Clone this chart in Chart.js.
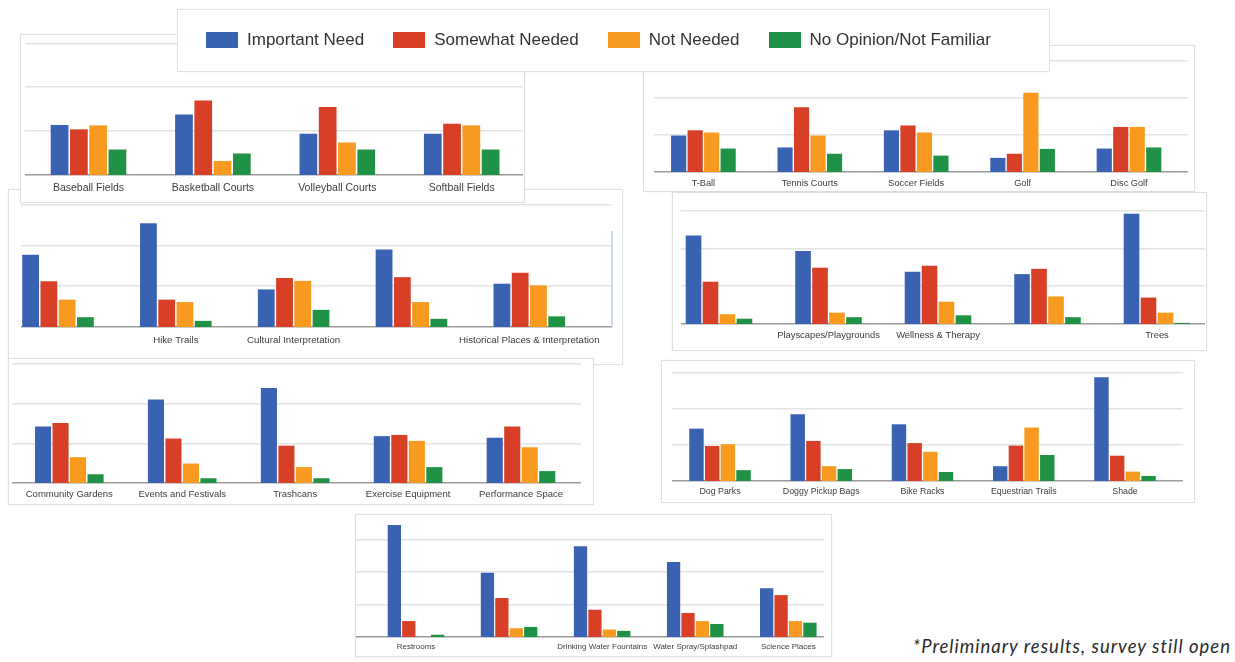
<!DOCTYPE html>
<html>
<head>
<meta charset="utf-8">
<script src="https://cdn.jsdelivr.net/npm/chart.js@4.4.1/dist/chart.umd.min.js"></script>
<style>
  body { margin: 0; background: #fff; width: 1235px; height: 662px; position: relative; overflow: hidden; font-family: "Liberation Sans", Arial, sans-serif; }
  .card { position: absolute; background: #fff; border: 1px solid #e0e0e0; box-shadow: 0 0 2px rgba(0,0,0,0.06); box-sizing: border-box; }
  .card canvas { position: absolute; }
  #legend { position: absolute; left: 177px; top: 9px; width: 873px; height: 63px; background: #fff; border: 1px solid #e2e2e2; box-shadow: 0 0 2px rgba(0,0,0,0.06); box-sizing: border-box; z-index: 5; display: flex; align-items: center; padding-left: 28px; padding-bottom: 2px; }
  .item { display: flex; align-items: center; margin-right: 29px; font-size: 17px; color: #333; }
  .swatch { width: 32px; height: 16px; margin-right: 9px; }
  #note { position: absolute; right: 4px; top: 635px; font-family: Lato, "Open Sans", sans-serif; font-style: italic; font-size: 18.5px; letter-spacing: 1px; color: #2b2b2b; }
  #selLine { position: absolute; left: 611px; top: 231px; width: 2px; height: 96px; background: #cad8f2; }
</style>
</head>
<body>
<div id="legend"></div>
<div id="note">*Preliminary results, survey still open</div>
<script>
// ================= DATA =================

const seriesNames = ["Important Need", "Somewhat Needed", "Not Needed", "No Opinion/Not Familiar"];
const seriesColors = ["#3a62b3", "#d73f26", "#f89a1f", "#1f9246"];
const gridValues = [10, 20, 30];

// courts & fields (top left)
const courtsCats = ["Baseball Fields", "Basketball Courts", "Volleyball Courts", "Softball Fields"];
const courtsImportant = [11.4, 13.8, 9.4, 9.4];
const courtsSomewhat = [10.4, 17.0, 15.5, 11.7];
const courtsNot = [11.3, 3.2, 7.4, 11.3];
const courtsNoOpinion = [5.8, 4.9, 5.8, 5.8];

// sports (top right)
const sportsCats = ["T-Ball", "Tennis Courts", "Soccer Fields", "Golf", "Disc Golf"];
const sportsImportant = [9.8, 6.6, 11.2, 3.8, 6.3];
const sportsSomewhat = [11.2, 17.4, 12.5, 4.9, 12.1];
const sportsNot = [10.6, 9.8, 10.6, 21.3, 12.1];
const sportsNoOpinion = [6.3, 4.9, 4.4, 6.2, 6.6];

// trails & culture (middle left)
const trailsCats = ["", "Hike Trails", "Cultural Interpretation", "", "Historical Places & Interpretation"];
const trailsImportant = [17.7, 25.4, 9.2, 19.0, 10.6];
const trailsSomewhat = [11.2, 6.7, 12.0, 12.2, 13.3];
const trailsNot = [6.7, 6.1, 11.3, 6.1, 10.2];
const trailsNoOpinion = [2.4, 1.5, 4.2, 2.0, 2.6];

// play & nature (middle right)
const playCats = ["", "Playscapes/Playgrounds", "Wellness & Therapy", "", "Trees"];
const playImportant = [23.4, 19.3, 13.8, 13.2, 29.2];
const playSomewhat = [11.2, 14.9, 15.4, 14.6, 7.0];
const playNot = [2.6, 3.0, 5.9, 7.3, 3.0];
const playNoOpinion = [1.4, 1.8, 2.3, 1.8, 0.3];

// community (lower left)
const communityCats = ["Community Gardens", "Events and Festivals", "Trashcans", "Exercise Equipment", "Performance Space"];
const communityImportant = [14.2, 21.0, 23.9, 11.8, 11.4];
const communitySomewhat = [15.1, 11.2, 9.4, 12.1, 14.2];
const communityNot = [6.5, 4.9, 4.0, 10.6, 9.0];
const communityNoOpinion = [2.2, 1.2, 1.2, 4.0, 3.0];

// amenities (lower right)
const amenityCats = ["Dog Parks", "Doggy Pickup Bags", "Bike Racks", "Equestrian Trails", "Shade"];
const amenityImportant = [14.5, 18.5, 15.7, 4.1, 28.7];
const amenitySomewhat = [9.7, 11.1, 10.5, 9.8, 7.0];
const amenityNot = [10.2, 4.1, 8.1, 14.8, 2.6];
const amenityNoOpinion = [3.0, 3.3, 2.5, 7.2, 1.4];

// facilities (bottom)
const facilityCats = ["Restrooms", "", "Drinking Water Fountains", "Water Spray/Splashpad", "Science Places"];
const facilityImportant = [34.5, 19.8, 27.9, 23.1, 15.0];
const facilitySomewhat = [4.9, 12.0, 8.4, 7.4, 12.9];
const facilityNot = [0, 2.7, 2.3, 4.9, 4.9];
const facilityNoOpinion = [0.7, 3.1, 1.9, 4.0, 4.4];

// ================= LAYOUT =================
// card: [left, top, width, height]; area: [left, right, y of top gridline, baseline]

const panels = [
  { cats: trailsCats, series: [trailsImportant, trailsSomewhat, trailsNot, trailsNoOpinion],
    card: [8, 189, 615, 176], area: [21, 612, 204.3, 326.7], first: 58, last: 529.3, font: 9.7, pad: 8, z: 1 },
  { cats: courtsCats, series: [courtsImportant, courtsSomewhat, courtsNot, courtsNoOpinion],
    card: [20, 34, 505, 169], area: [25, 523, 43.3, 175], first: 88.5, last: 461.7, font: 10.5, pad: 7, z: 2 },
  { cats: sportsCats, series: [sportsImportant, sportsSomewhat, sportsNot, sportsNoOpinion],
    card: [643, 45, 552, 147], area: [654, 1188, 60, 171.7], first: 703.4, last: 1129, font: 9.2, pad: 6, z: 2 },
  { cats: playCats, series: [playImportant, playSomewhat, playNot, playNoOpinion],
    card: [672, 192, 535, 159], area: [681, 1205, 210.7, 324], first: 719, last: 1157, font: 9.4, pad: 6, z: 2 },
  { cats: communityCats, series: [communityImportant, communitySomewhat, communityNot, communityNoOpinion],
    card: [8, 358, 586, 147], area: [12, 581, 364, 483.3], first: 69.3, last: 521, font: 9.5, pad: 6, z: 2 },
  { cats: amenityCats, series: [amenityImportant, amenitySomewhat, amenityNot, amenityNoOpinion],
    card: [661, 360, 534, 143], area: [672, 1183, 373, 481.3], first: 720, last: 1125, font: 8.8, pad: 5, z: 2 },
  { cats: facilityCats, series: [facilityImportant, facilitySomewhat, facilityNot, facilityNoOpinion],
    card: [355, 514, 477, 143], area: [356, 824, 539, 636.7], first: 416, last: 788.3, font: 8, pad: 5, z: 3 }
];

// ================= LEGEND =================

const legend = document.getElementById("legend");
seriesNames.forEach((name, k) => {
  const item = document.createElement("div");
  item.className = "item";
  item.innerHTML = `<span class="swatch" style="background:${seriesColors[k]}"></span>${name}`;
  legend.appendChild(item);
});

// ================= CHARTS =================

const yMax = 36;
const axisH = 26;

function buildPanel(p) {
  const card = document.createElement("div");
  card.className = "card";
  card.style.left = p.card[0] + "px";
  card.style.top = p.card[1] + "px";
  card.style.width = p.card[2] + "px";
  card.style.height = p.card[3] + "px";
  card.style.zIndex = p.z;
  document.body.appendChild(card);

  const [L, R, gTop, base] = p.area;
  const ppu = (base - gTop) / 30;
  const areaH = Math.round(yMax * ppu);
  const canvas = document.createElement("canvas");
  canvas.width = Math.round(R - L);
  canvas.height = areaH + axisH;
  canvas.style.left = (Math.round(L) - p.card[0] - 1) + "px";
  canvas.style.top = (Math.round(base) - areaH - p.card[1] - 1) + "px";
  card.appendChild(canvas);

  const n = p.cats.length;
  const step = (p.last - p.first) / (n - 1);
  const xMin = 1 - (p.first - L) / step;
  const xMax = n + (R - p.last) / step;

  new Chart(canvas, {
    type: "bar",
    data: {
      datasets: p.series.map((vals, k) => ({
        label: seriesNames[k],
        data: vals.map((v, i) => ({ x: i + 1, y: v })),
        backgroundColor: seriesColors[k],
        categoryPercentage: 0.62,
        barPercentage: 0.92
      }))
    },
    options: {
      responsive: false,
      animation: false,
      devicePixelRatio: 1,
      layout: { padding: 0 },
      plugins: { legend: { display: false }, tooltip: { enabled: false } },
      scales: {
        x: {
          type: "linear",
          bounds: "data",
          min: xMin,
          max: xMax,
          offset: false,
          grid: { display: false, drawTicks: false },
          border: { display: true, color: "#9b9b9b", width: 1.5 },
          afterBuildTicks: s => { s.ticks = p.cats.map((c, i) => ({ value: i + 1 })); },
          afterFit: s => { s.height = axisH; s.paddingLeft = 0; s.paddingRight = 0; },
          ticks: {
            autoSkip: false,
            maxRotation: 0,
            minRotation: 0,
            padding: p.pad,
            color: "#3c3c3c",
            font: { family: '"Liberation Sans", Arial, sans-serif', size: p.font },
            callback: v => p.cats[Math.round(v) - 1]
          }
        },
        y: {
          bounds: "data",
          min: 0,
          max: yMax,
          grid: { color: "#e4e4e4", lineWidth: 1.5, drawTicks: false },
          border: { display: false },
          ticks: { display: false },
          afterBuildTicks: s => { s.ticks = gridValues.map(v => ({ value: v })); },
          afterFit: s => { s.width = 0; }
        }
      }
    }
  });
}

panels.forEach(buildPanel);
</script>
<div id="selLine" style="z-index:1"></div>
</body>
</html>
